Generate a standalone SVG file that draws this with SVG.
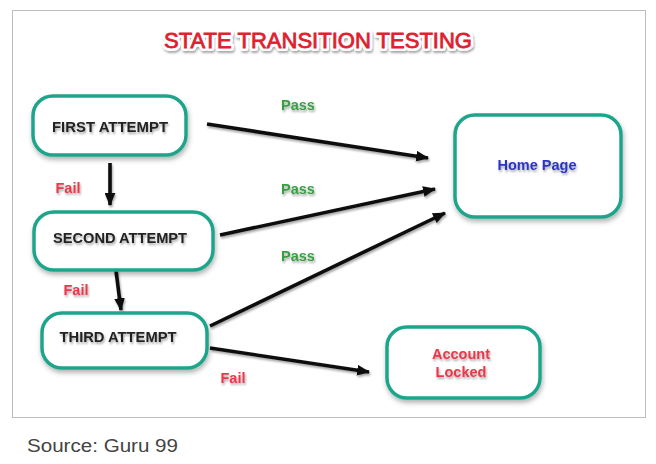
<svg xmlns="http://www.w3.org/2000/svg" width="656" height="464" viewBox="0 0 656 464">
<defs>
<filter id="sh" x="-20%" y="-20%" width="140%" height="150%"><feDropShadow dx="1" dy="3" stdDeviation="2.5" flood-color="#000" flood-opacity="0.3"/></filter>
<filter id="tsh" x="-10%" y="-30%" width="120%" height="170%"><feDropShadow dx="1" dy="2" stdDeviation="1.2" flood-color="#000" flood-opacity="0.35"/></filter>
<marker id="ah" viewBox="0 0 12 10" refX="11" refY="5" markerWidth="13" markerHeight="11" markerUnits="userSpaceOnUse" orient="auto"><path d="M0,0 L12,5 L0,10 Z" fill="#111"/></marker>
</defs>
<style>
.box{fill:#fff;stroke:#1fa58b;stroke-width:3.5}
.nt{font-family:"Liberation Sans",Arial,sans-serif;font-weight:bold;font-size:15.5px;fill:#222;text-anchor:middle}
.lb{font-family:"Liberation Sans",Arial,sans-serif;font-weight:bold;font-size:14.5px;text-anchor:middle}
.pass{fill:#3a9e45}
.fail{fill:#e8384a}
.con{stroke:#111;stroke-width:3.6;fill:none;marker-end:url(#ah)}
</style>
<rect x="0" y="0" width="656" height="464" fill="#fff"/>
<rect x="12.5" y="10.5" width="633" height="407" fill="#fff" stroke="#bdbdbd" stroke-width="1"/>
<g id="title">
<text x="318" y="48" font-family="Liberation Sans,Arial,sans-serif" font-size="22" text-anchor="middle" textLength="308" lengthAdjust="spacingAndGlyphs" fill="#fff" stroke="#fff" stroke-width="6" stroke-linejoin="round" filter="url(#tsh)">STATE TRANSITION TESTING</text>
<text x="318" y="48" font-family="Liberation Sans,Arial,sans-serif" font-size="22" text-anchor="middle" textLength="308" lengthAdjust="spacingAndGlyphs" fill="#e0202e" stroke="#e0202e" stroke-width="0.8">STATE TRANSITION TESTING</text>
</g>
<g id="connectors" filter="url(#tsh)">
<line class="con" x1="207" y1="124" x2="428" y2="158"/>
<line class="con" x1="220" y1="235" x2="435" y2="189"/>
<line class="con" x1="210" y1="326" x2="445" y2="213"/>
<line class="con" x1="210" y1="348" x2="369" y2="372"/>
<line class="con" x1="110" y1="163" x2="110" y2="205"/>
<line class="con" x1="115" y1="263" x2="121" y2="310"/>
</g>
<g id="labels">
<text class="lb pass" x="298" y="110" filter="url(#tsh)">Pass</text>
<text class="lb pass" x="298" y="194" filter="url(#tsh)">Pass</text>
<text class="lb pass" x="298" y="261" filter="url(#tsh)">Pass</text>
<text class="lb fail" x="68" y="193" filter="url(#tsh)">Fail</text>
<text class="lb fail" x="76" y="295" filter="url(#tsh)">Fail</text>
<text class="lb fail" x="233" y="383" filter="url(#tsh)">Fail</text>
</g>
<g id="first-attempt">
<rect class="box" x="33" y="96" width="153" height="59" rx="20" filter="url(#sh)"/>
<text class="nt" x="110" y="132" textLength="116" lengthAdjust="spacingAndGlyphs" filter="url(#tsh)">FIRST ATTEMPT</text>
</g>
<g id="second-attempt">
<rect class="box" x="34" y="212" width="179" height="58" rx="20" filter="url(#sh)"/>
<text class="nt" x="120" y="243" textLength="134" lengthAdjust="spacingAndGlyphs" filter="url(#tsh)">SECOND ATTEMPT</text>
</g>
<g id="third-attempt">
<rect class="box" x="42" y="313" width="165" height="55" rx="20" filter="url(#sh)"/>
<text class="nt" x="118" y="342" textLength="117" lengthAdjust="spacingAndGlyphs" filter="url(#tsh)">THIRD ATTEMPT</text>
</g>
<g id="home-page">
<rect class="box" x="455" y="115" width="166" height="102" rx="20" filter="url(#sh)"/>
<text class="lb" x="537" y="170" font-size="15" fill="#2a35c8" filter="url(#tsh)">Home Page</text>
</g>
<g id="account-locked">
<rect class="box" x="387" y="327" width="153" height="71" rx="20" filter="url(#sh)"/>
<text class="lb fail" x="461" y="359" font-size="15" filter="url(#tsh)">Account</text>
<text class="lb fail" x="461" y="377" font-size="15" filter="url(#tsh)">Locked</text>
</g>
<text x="27" y="452" font-family="Liberation Sans,Arial,sans-serif" font-size="18" fill="#444" textLength="151" lengthAdjust="spacingAndGlyphs">Source: Guru 99</text>
</svg>
